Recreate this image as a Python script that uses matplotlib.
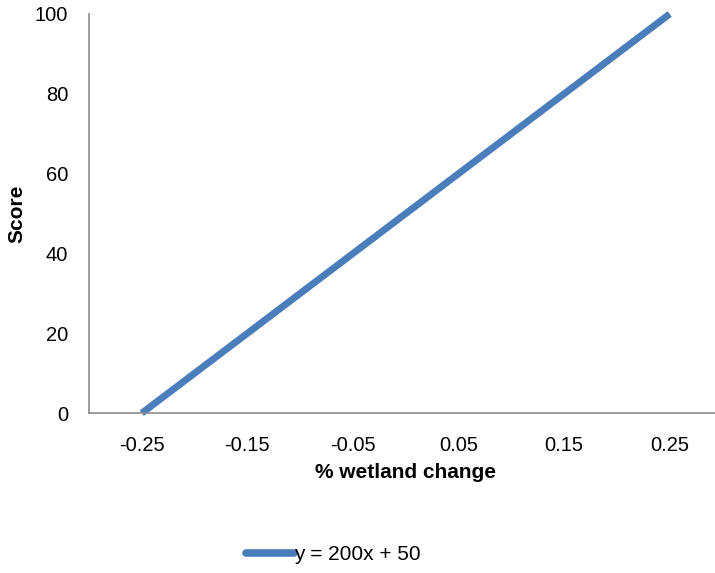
import matplotlib.pyplot as plt

plt.rcParams['font.family'] = ['Liberation Sans', 'DejaVu Sans']

# linear scoring function y = 200x + 50
wetland_change = [-0.25, 0.25]
score = [0, 100]
x_ticks = [-0.25, -0.15, -0.05, 0.05, 0.15, 0.25]
y_ticks = [0, 20, 40, 60, 80, 100]

fig = plt.figure(figsize=(7.15, 5.73), dpi=100)
# the plot area runs a little past the right edge of the figure
ax = fig.add_axes([0.1245, 0.279, 0.886, 0.6966])

ax.plot(wetland_change, score, color='#4a7ebb', linewidth=5, solid_capstyle='butt',
        label='y = 200x + 50', clip_on=False)

ax.set_xlim(-0.3, 0.3)
ax.set_ylim(0, 100)
ax.set_xticks(x_ticks)
ax.set_xticklabels([f'{t:.2f}' for t in x_ticks])
ax.set_yticks(y_ticks)
ax.tick_params(length=0, labelsize=14.5)
ax.tick_params(axis='y', pad=15)
ax.tick_params(axis='x', pad=16.5)

for side in ['top', 'right']:
    ax.spines[side].set_visible(False)
for side in ['left', 'bottom']:
    ax.spines[side].set_color('#8c8c8c')
    ax.spines[side].set_linewidth(1.2)

ax.set_xlabel('% wetland change', fontsize=15, fontweight='bold', labelpad=6)
ax.set_ylabel('Score', fontsize=15, fontweight='bold', labelpad=6)

leg = fig.legend(loc='center', bbox_to_anchor=(0.466, 0.032), frameon=False,
                 fontsize=15, handlelength=2.3, handletextpad=0.0)
for line in leg.get_lines():
    line.set_solid_capstyle('round')
    line.set_linewidth(5.5)

fig.savefig('out.png', dpi=100)
